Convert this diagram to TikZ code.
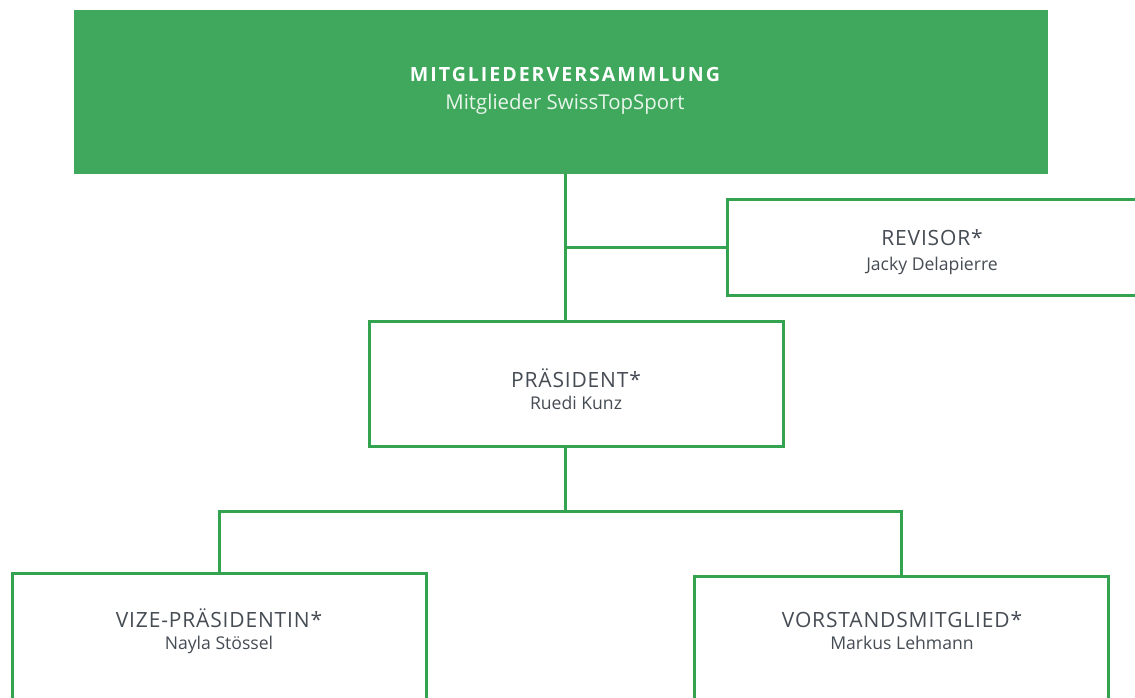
\documentclass[tikz,border=0pt]{standalone}
\usepackage{fontspec}
\setmainfont{Open Sans}
\newfontfamily\capsfont[LetterSpace=4]{Open Sans}
\newfontfamily\titlefont[LetterSpace=10]{Open Sans}
\definecolor{sgreen}{RGB}{63,168,92}
\definecolor{lgreen}{RGB}{52,163,80}
\definecolor{tgray}{RGB}{70,76,84}
\tikzset{
  box/.style={draw=lgreen, line width=3pt, fill=white, inner sep=0pt},
  conn/.style={draw=lgreen, line width=3pt},
  role/.style={text=tgray, anchor=base, inner sep=0pt, font=\capsfont\fontsize{21}{24}\selectfont},
  person/.style={text=tgray, anchor=base, inner sep=0pt, font=\fontsize{17.6}{22}\selectfont},
}
\begin{document}
\begin{tikzpicture}[x=1pt,y=-1pt]
\useasboundingbox (0,0) rectangle (1135,698);
\clip (0,0) rectangle (1135,698);
\node[fill=sgreen, minimum width=974pt, minimum height=164pt, inner sep=0pt] (mv) at (561,92) {};
\node[text=white, anchor=base, inner sep=0pt, font=\titlefont\bfseries\fontsize{19.6}{24}\selectfont] (mvt) at (565,82) {MITGLIEDERVERSAMMLUNG};
\node[text=white!88!sgreen, anchor=base, inner sep=0pt, font=\fontsize{20.4}{24}\selectfont] (mvs) at (565,110) {Mitglieder SwissTopSport};
\coordinate (t) at (565,174);
\coordinate (bar) at (565,511);
\node[box, minimum width=410pt, minimum height=96pt] (revb) at (932,247) {};
\node[role] (revt) at (932,245) {REVISOR*};
\node[person] (revn) at (932,270) {Jacky Delapierre};
\node[box, minimum width=414pt, minimum height=125pt] (presb) at (576,383.5) {};
\node[role] (prest) at (576,387) {PRÄSIDENT*};
\node[person] (presn) at (576,409) {Ruedi Kunz};
\node[box, minimum width=414pt, minimum height=160pt] (vizeb) at (219,653) {};
\node[role] (vizet) at (219,627) {VIZE-PRÄSIDENTIN*};
\node[person] (vizen) at (219,649) {Nayla Stössel};
\node[box, minimum width=414pt, minimum height=160pt] (vorb) at (901,656) {};
\node[role] (vort) at (902,627) {VORSTANDSMITGLIED*};
\node[person] (vorn) at (902,649) {Markus Lehmann};
\draw[conn] (mv.south -| t) -- (presb.north -| t);
\draw[conn] (t |- revb.west) -- (revb.west);
\draw[conn] (presb.south -| bar) -- (bar);
\draw[conn] (vizeb.north) |- (bar) -| (vorb.north);
\end{tikzpicture}
\end{document}
